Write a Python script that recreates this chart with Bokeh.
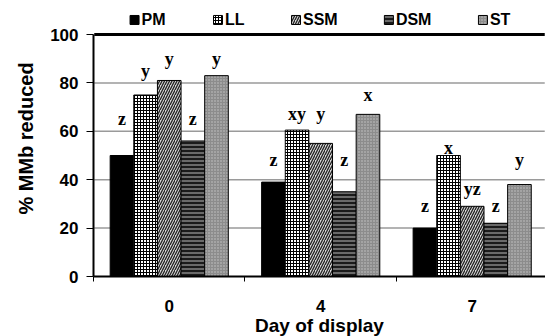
from bokeh.plotting import figure
from bokeh.models import Range1d, FixedTicker, ColumnDataSource
from bokeh.core.properties import value
from bokeh.embed import file_html
from bokeh.resources import INLINE

days = ["0", "4", "7"]
series = ["PM", "LL", "SSM", "DSM", "ST"]
PM = [50, 39, 20]
LL = [75, 60.5, 50]
SSM = [81, 55, 29]
DSM = [56, 35, 22]
ST = [83, 67, 38]
letters_PM = ["z", "z", "z"]
letters_LL = ["y", "xy", "x"]
letters_SSM = ["y", "y", "yz"]
letters_DSM = ["z", "z", "z"]
letters_ST = ["y", "x", "y"]
# heights at which the significance letters sit
letter_y_PM = [65, 48, 29]
letter_y_LL = [85, 67, 53]
letter_y_SSM = [90, 67, 36]
letter_y_DSM = [65, 48, 29]
letter_y_ST = [90, 75, 48]
y_ticks = [0, 20, 40, 60, 80, 100]

values = [PM, LL, SSM, DSM, ST]
letters = [letters_PM, letters_LL, letters_SSM, letters_DSM, letters_ST]
letter_ys = [letter_y_PM, letter_y_LL, letter_y_SSM, letter_y_DSM, letter_y_ST]

# layout (not data): legend swatch positions along the top, in x-axis units
legend_x = [0.271, 0.822, 1.337, 1.950, 2.571]
legend_y = 106.0

styles = [
    dict(fill_color="black"),
    dict(fill_color="white", hatch_pattern="+", hatch_color="black", hatch_scale=3, hatch_weight=1),
    dict(fill_color="#d8d8d8", hatch_pattern="/", hatch_color="#222222", hatch_scale=5, hatch_weight=1.3),
    dict(fill_color="#6a6a6a", hatch_pattern="-", hatch_color="black", hatch_scale=4, hatch_weight=1.5),
    dict(fill_color="#8c8c8c", hatch_pattern=".", hatch_color="#c8c8c8", hatch_scale=3, hatch_weight=1),
]

x_end = 2.984
p = figure(frame_width=452, frame_height=276, output_backend="svg", toolbar_location=None,
           x_range=Range1d(0, x_end), y_range=Range1d(0, 114.05),
           min_border_left=93, min_border_right=0, min_border_top=0, min_border_bottom=60)
p.outline_line_color = None
p.xgrid.visible = False
p.ygrid.visible = False

# horizontal gridlines and top border drawn as thin filled quads
gx0, gx1 = 0.005, x_end - 0.005
grid_y = y_ticks[1:-1]
grid_src = ColumnDataSource(dict(left=[gx0] * len(grid_y), right=[gx1] * len(grid_y),
                                 bottom=[g - 0.3 for g in grid_y], top=[g + 0.3 for g in grid_y]))
p.quad(left="left", right="right", bottom="bottom", top="top", source=grid_src,
       fill_color="#9a9a9a", line_color=None)
p.quad(left=[gx0], right=[gx1], bottom=[y_ticks[-1] - 0.6], top=[y_ticks[-1] + 0.6],
       fill_color="black", line_color=None)

bw = 0.156
for i, (name, vals, st) in enumerate(zip(series, values, styles)):
    xs = [k + 0.5 + (i - 2) * bw for k in range(len(days))]
    src = ColumnDataSource(dict(x=xs, top=vals, lab=letters[i], ly=letter_ys[i]))
    p.vbar(x="x", top="top", width=bw, source=src, line_color="black", line_width=1, **st)
    p.text(x="x", y="ly", text="lab", source=src, text_align="center", text_baseline="middle",
           text_font=value("Liberation Serif"), text_font_style="bold", text_font_size="18px",
           text_color="black")
    # legend entry
    p.rect(x=[legend_x[i]], y=[legend_y], width=9, height=9, width_units="screen",
           height_units="screen", line_color="black", line_width=1, **st)
    p.text(x=[legend_x[i]], y=[legend_y], text=[name], x_offset=7, text_align="left",
           text_baseline="middle", text_font=value("Liberation Sans"), text_font_style="bold",
           text_font_size="16px", text_color="black")

p.xaxis.ticker = FixedTicker(ticks=[0.5, 1.5, 2.5], minor_ticks=[0, 1, 2, 3])
p.xaxis.major_label_overrides = {0.5: days[0], 1.5: days[1], 2.5: days[2]}
p.xaxis.major_tick_out = 0
p.xaxis.major_tick_in = 0
p.xaxis.minor_tick_out = 5
p.xaxis.minor_tick_in = 0
p.xaxis.axis_line_width = 2
p.xaxis.major_label_standoff = 18
p.xaxis.axis_label = "Day of display"
p.xaxis.axis_label_standoff = 0

p.yaxis.ticker = FixedTicker(ticks=y_ticks)
p.yaxis.bounds = (0, 100)
p.yaxis.major_tick_out = 7
p.yaxis.major_tick_in = 0
p.yaxis.minor_tick_out = 0
p.yaxis.axis_line_width = 2
p.yaxis.major_label_standoff = 8
p.yaxis.axis_label = "% MMb reduced"
p.yaxis.axis_label_standoff = 10

for ax in (p.xaxis, p.yaxis):
    ax.axis_line_color = "black"
    ax.major_tick_line_color = "black"
    ax.minor_tick_line_color = "black"
    ax.major_label_text_font = "Liberation Sans"
    ax.major_label_text_font_style = "bold"
    ax.major_label_text_font_size = "17px"
    ax.major_label_text_color = "black"
    ax.axis_label_text_font = "Liberation Sans"
    ax.axis_label_text_font_style = "bold"
    ax.axis_label_text_color = "black"
p.xaxis.axis_label_text_font_size = "19px"
p.yaxis.axis_label_text_font_size = "20px"

open("out.html", "w").write(file_html(p, INLINE))
